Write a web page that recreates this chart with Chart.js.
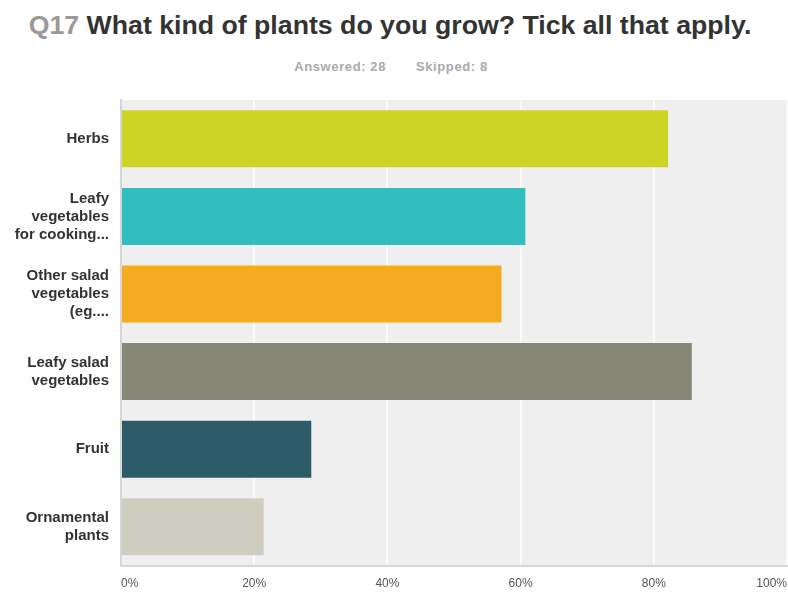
<!DOCTYPE html>
<html>
<head>
<meta charset="utf-8">
<script src="https://cdn.jsdelivr.net/npm/chart.js@4.4.0/dist/chart.umd.min.js"></script>
<style>
  html, body { margin: 0; padding: 0; background: #fff; overflow: hidden; }
  body { width: 788px; height: 594px; position: relative; font-family: "Liberation Sans", Arial, sans-serif; }
  #title { position: absolute; top: 10px; left: -4px; width: 788px; text-align: center; font-size: 26.7px; font-weight: bold; color: #333; white-space: nowrap; }
  #title .q { color: #999; }
  #sub { position: absolute; top: 59px; left: -3px; width: 788px; text-align: center; font-size: 13px; font-weight: bold; color: #aaa; letter-spacing: 0.6px; }
  #sub span + span { margin-left: 30px; }
  #wrap { position: absolute; top: 90px; left: 0; width: 788px; height: 516px; }
</style>
</head>
<body>
<div id="title"><span class="q">Q17</span> What kind of plants do you grow? Tick all that apply.</div>
<div id="sub"><span>Answered: 28</span><span>Skipped: 8</span></div>
<div id="wrap"><canvas id="chart"></canvas></div>
<script>
// Answer choices, top to bottom
const categories = [
  ['Herbs'],
  ['Leafy', 'vegetables', 'for cooking...'],
  ['Other salad', 'vegetables', '(eg....'],
  ['Leafy salad', 'vegetables'],
  ['Fruit'],
  ['Ornamental', 'plants']
];
// Share of respondents (%)
const responses = [82.14, 60.71, 57.14, 85.71, 28.57, 21.43];
const barColours = ['#cdd425', '#32bdbf', '#f5ab1f', '#878777', '#2d5c68', '#cfcdc0'];
const xTicks = [0, 20, 40, 60, 80, 100];

// Grey plot background behind bars
const plotBackground = {
  id: 'plotBackground',
  beforeDraw(chart) {
    const { ctx, chartArea } = chart;
    ctx.save();
    ctx.fillStyle = '#efefef';
    ctx.fillRect(chartArea.left, chartArea.top, chartArea.right - chartArea.left, chartArea.bottom - chartArea.top);
    ctx.restore();
  }
};

new Chart(document.getElementById('chart').getContext('2d'), {
  type: 'bar',
  data: {
    labels: categories,
    datasets: [{
      data: responses,
      backgroundColor: barColours,
      borderWidth: 0,
      barPercentage: 0.735,
      categoryPercentage: 1
    }]
  },
  plugins: [plotBackground],
  options: {
    indexAxis: 'y',
    responsive: true,
    maintainAspectRatio: false,
    animation: false,
    layout: { padding: { top: 10, right: 1, bottom: 4, left: 0 } },
    plugins: {
      legend: { display: false },
      tooltip: { enabled: false }
    },
    scales: {
      x: {
        min: 0,
        max: 100,
        afterBuildTicks: (scale) => { scale.ticks = xTicks.map(v => ({ value: v })); },
        afterFit: (scale) => { scale.paddingLeft = 0; scale.paddingRight = 0; },
        ticks: {
          align: 'inner',
          padding: 11,
          color: '#555',
          font: { family: 'Liberation Sans', size: 12 },
          callback: (v) => v + '%'
        },
        grid: { color: '#fafafa', lineWidth: 2, drawTicks: false },
        border: { color: '#d6d6d6', width: 2 }
      },
      y: {
        afterFit: (scale) => { scale.width = 121; scale.paddingTop = 0; scale.paddingBottom = 0; },
        ticks: {
          padding: 12,
          color: '#333',
          font: { family: 'Liberation Sans', size: 15, weight: 'bold', lineHeight: 1.2 }
        },
        grid: { display: false, drawTicks: false },
        border: { color: '#d6d6d6', width: 2 }
      }
    }
  }
});
</script>
</body>
</html>
